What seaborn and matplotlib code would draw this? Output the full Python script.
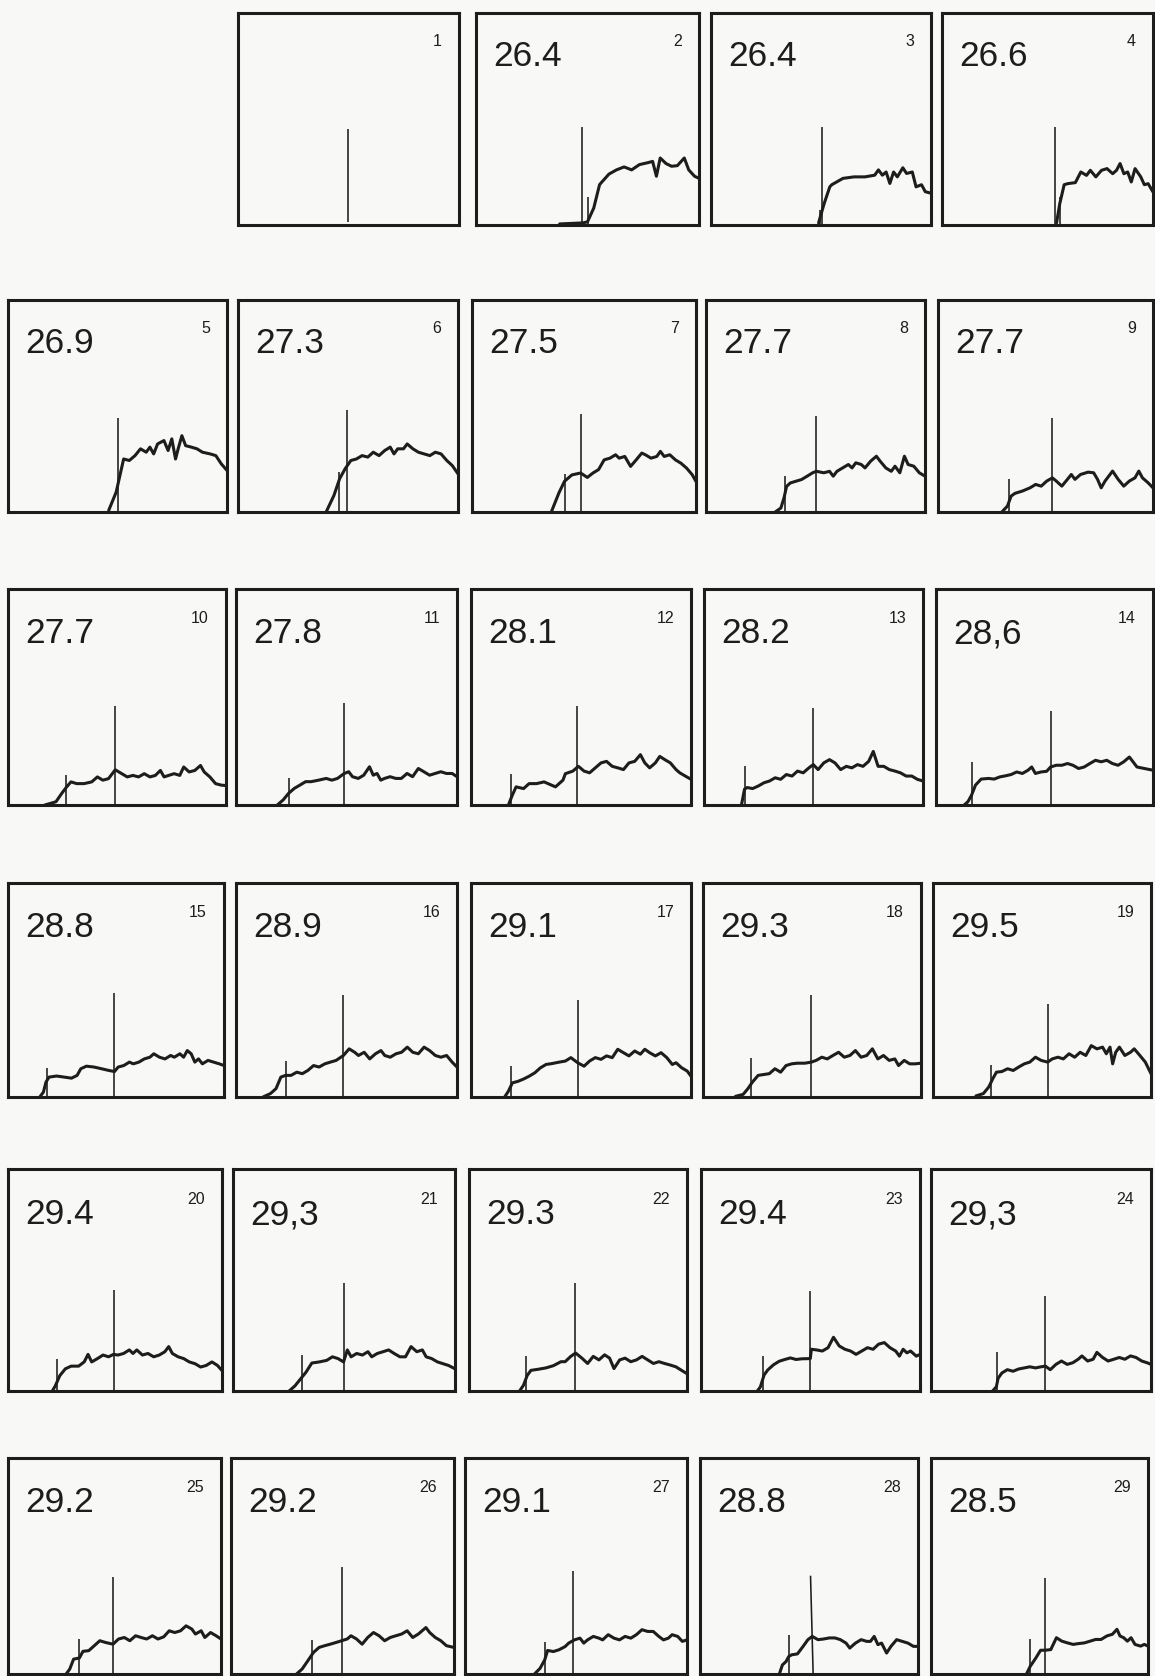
import matplotlib
matplotlib.use("Agg")
import matplotlib.pyplot as plt
import seaborn as sns

sns.set_theme(style="white")
plt.rcParams["font.family"] = ["Liberation Sans", "DejaVu Sans"]

# ---------------- data ----------------
panel_numbers = list(range(1, 30))
temperatures = ["", "26.4", "26.4", "26.6", "26.9", "27.3", "27.5", "27.7", "27.7",
                "27.7", "27.8", "28.1", "28.2", "28,6", "28.8", "28.9", "29.1", "29.3",
                "29.5", "29.4", "29,3", "29.3", "29.4", "29,3", "29.2", "29.2", "29.1",
                "28.8", "28.5"]

# tall reference line: x at top, x at bottom, height (percent of panel)
marker_x_top = [49.7, 47.4, 50.6, 53.5, 50.3, 49.6, 48.5, 50.4, 53.2, 49.2, 49.0, 48.3,
                49.9, 52.8, 49.3, 48.6, 48.5, 49.7, 52.6, 49.3, 49.8, 48.5, 49.9, 52.0,
                49.3, 49.6, 48.8, 50.7, 52.6]
marker_x_bottom = [49.7, 47.4, 50.6, 53.5, 50.3, 49.6, 48.5, 50.4, 53.2, 49.2, 49.0, 48.3,
                   49.9, 52.8, 49.3, 48.6, 48.5, 49.7, 52.6, 49.3, 49.8, 48.5, 49.9, 52.0,
                   49.3, 49.6, 48.8, 51.9, 52.6]
marker_h = [45.5, 46.2, 46.0, 46.4, 44.2, 48.3, 46.0, 45.3, 44.4, 45.8, 47.2, 45.8,
            45.0, 43.3, 48.5, 47.6, 45.3, 47.7, 43.4, 45.7, 48.5, 48.7, 45.2, 43.0,
            44.9, 49.5, 47.7, 45.5, 44.3]
marker_base = [1.6] + [0.0] * 28

# short onset tick (None = no tick)
onset_x = [None, 50.0, 49.4, 55.8, None, 45.8, 41.3, 35.9, 33.2, 26.7, 24.1, 18.4,
           18.5, 16.8, 18.2, 22.7, 18.4, 22.2, 26.8, 22.8, 30.9, 26.3, 28.5, 30.0,
           33.5, 36.1, 35.9, 40.7, 45.7]
onset_h = [None, 13, 7, 13, None, 19, 18, 17, 15.4, 13.7, 12.3, 14.5,
           18.2, 20, 13.5, 17, 14.4, 18.3, 15, 14.3, 16.2, 15.9, 15.7, 17.7,
           16.2, 15.7, 14.6, 18.2, 16]

c02_x = [37.5, 48, 50, 52.8, 55.4, 56.2, 59.6, 63, 66.4, 69.8, 73.3, 76.7, 79.2, 80.9,
         82.6, 85.2, 87.7, 90.3, 93.4, 95.4, 98, 100]
c02_y = [0.5, 1, 1.5, 8, 19, 20, 24, 26, 27.4, 26, 28.5, 29.3, 30, 23, 31.6, 29, 27.7,
         28, 31.6, 26, 23, 22]
c03_x = [48.9, 51.4, 54, 54.9, 60, 65, 70, 74.4, 76.1, 77.9, 79.6, 81.3, 83, 84.7, 87.2,
         88.9, 91.5, 93.2, 95.7, 97.4, 100]
c03_y = [1, 10, 18, 19, 22, 22.7, 22.7, 23.5, 26, 23.5, 25, 19.6, 25, 22.7, 27, 24.3,
         25, 18, 19, 15.7, 15]
c04_x = [54.3, 55.8, 57.9, 59.6, 63.2, 65.8, 68.5, 70.3, 72.9, 75.6, 78.2, 80.9, 82.7,
         84.4, 86.2, 88, 89.7, 91.5, 94.2, 95.9, 97.7, 100]
c04_y = [1, 10, 19, 19.5, 20, 25, 23.4, 25.8, 22.7, 25.8, 26.6, 24.2, 25.8, 29, 24.2,
         25, 20.3, 26.6, 22.7, 19, 19.5, 15.6]
c05_x = [46, 49.4, 52.8, 55.4, 58, 60.5, 63.1, 64.8, 66.5, 68.3, 71.2, 73.1, 74.8, 76.5,
         77.7, 79.4, 81.1, 83.7, 86.3, 88.8, 92.3, 94.9, 97.4, 100]
c05_y = [0.8, 9.4, 25, 24.3, 26.6, 29.8, 28.2, 30.6, 27.4, 32.1, 33.7, 29, 34.5, 25,
         29.8, 36, 31.3, 30.6, 29.8, 28.2, 27.4, 26.6, 22.7, 19.6]
c06_x = [40.2, 43.6, 46.2, 48.7, 51.3, 53.8, 56.4, 59, 61.5, 64.1, 66.7, 69.2, 70.9,
         72.6, 75.2, 76.9, 79.5, 82, 84.6, 87.2, 89.7, 92.3, 94.9, 97.4, 100]
c06_y = [0.3, 7.8, 15.7, 20.4, 24.3, 25, 26.6, 25.9, 28.2, 26.6, 29, 30.6, 27.4, 29.8,
         29.8, 32.1, 29.8, 28.2, 27.4, 26.6, 28.2, 27.4, 24.3, 21.9, 18]
c07_x = [35.4, 38.8, 41.3, 44.6, 48.5, 51.5, 54, 56.5, 59, 61.6, 64.1, 65.7, 68.2, 70.8,
         73.3, 75.8, 77.4, 79.9, 82.5, 84.1, 85.8, 88.3, 90.8, 93.3, 95.8, 98.3, 100]
c07_y = [0, 9, 14.5, 17.5, 18.4, 16.3, 18.4, 20, 24.6, 25.4, 27, 25.4, 26.2, 21.5, 24.6,
         27.8, 27, 25.4, 26.2, 28.6, 26.2, 27, 24.6, 23, 20.7, 17.6, 14.4]
c08_x = [31.6, 34.2, 35.6, 36.8, 38.5, 41, 43.6, 46.2, 48.7, 50.4, 53.8, 56.4, 58.1,
         59.8, 62.4, 65, 66.7, 68.4, 70.9, 72.6, 75.2, 77.8, 79.5, 82.1, 84.6, 86.3,
         88.5, 90.6, 92.3, 94.9, 97.4, 100]
c08_y = [0, 1.9, 6.6, 12.1, 13.7, 14.5, 15.3, 16.9, 18.5, 19.2, 18.5, 19.2, 16.9, 19.2,
         20.8, 22.4, 20.8, 23.2, 22.4, 20.8, 24, 26.3, 24, 20.8, 19.2, 21.6, 18.5, 26.3,
         22.4, 21.6, 18.5, 16.9]
c09_x = [29.7, 32.3, 34, 35.8, 39.3, 42.8, 45.4, 48, 50.6, 53.2, 55, 57.6, 60.2, 62,
         63.7, 66.3, 69.8, 72.4, 74.2, 75.9, 77.7, 81.2, 83.8, 86.4, 89, 91.6, 93.4,
         95.1, 97.7, 100]
c09_y = [0, 2.8, 7.5, 8.8, 9.9, 11.4, 13, 12.2, 14.6, 16.1, 14.6, 12.2, 15.4, 17.7,
         15.4, 17.7, 18.8, 18.5, 15.4, 11.4, 14.6, 19.3, 15.4, 12.2, 14.6, 16.1, 19.3,
         16.1, 13.8, 11.4]
c10_x = [16.9, 22, 24.6, 26.9, 28.9, 31.5, 34.9, 38.4, 41, 43.5, 46.1, 49.2, 52.2, 54.7,
         57.3, 59.9, 62.5, 65.1, 67.6, 69.9, 71.6, 73.7, 76.2, 78.8, 80.6, 83.1, 85.7,
         88.3, 90, 92.6, 95.2, 97.8, 100]
c10_y = [0, 1.5, 5.3, 8.4, 10.7, 9.9, 9.9, 10.7, 13, 11.5, 12.2, 16.3, 14.5, 13, 13.7,
         13, 14.5, 13, 13.7, 16, 13, 13.7, 14.5, 13.7, 17.6, 15.3, 16, 18.3, 15.3, 13,
         9.9, 9.2, 9]
c11_x = [18.7, 21.3, 23.8, 26.4, 28.9, 31.5, 34, 37.4, 40.8, 43.4, 45.9, 49, 51, 52.7,
         55.3, 57.8, 60.4, 62.1, 63.8, 65.5, 67.2, 69.7, 72.3, 74.8, 77.4, 79.9, 82.5,
         85, 87.6, 90.1, 92.7, 95.2, 97.8, 100]
c11_y = [0, 2.3, 5.4, 7.7, 9.2, 10.8, 10.8, 11.5, 12.3, 11.5, 12.3, 14.6, 15.4, 13.1,
         12.3, 13.8, 17.7, 13.8, 14.6, 11.5, 12.3, 13.1, 12.3, 12.3, 14.6, 13.1, 16.9,
         15.4, 13.8, 14.6, 15.4, 14.6, 14.6, 13.1]
c12_x = [17, 18.8, 20.5, 23.9, 26.4, 29.8, 33.2, 38.4, 41.8, 42.9, 46.3, 48.8, 51.4,
         53.9, 56.5, 59.1, 61.6, 64.2, 66.7, 69.3, 71.8, 74.4, 77, 79, 81.2, 83.8, 85.8,
         88.1, 90.6, 93.2, 94.9, 97.4, 100]
c12_y = [0, 4.6, 8.4, 7.6, 9.9, 9.9, 10.7, 8.4, 11.5, 14.5, 15.7, 17.9, 15.7, 14.9,
         17.2, 19.5, 20.2, 17.9, 17.2, 16.4, 19.5, 20.2, 23.3, 19.5, 17.2, 19.5, 22.5, 21,
         19.5, 16.4, 14.9, 13.4, 11.9]
c13_x = [17.1, 18.5, 19.7, 22.2, 24.8, 27.4, 29.9, 32.5, 35, 37.6, 40.2, 42.7, 45.3,
         47.9, 49.9, 52.1, 54.7, 57.3, 59.8, 62.4, 65, 67.5, 70.1, 72.6, 75.2, 77.3,
         79.5, 82.1, 84.6, 87.2, 89.7, 92.3, 94.9, 97.4, 100]
c13_y = [0, 7.3, 8.1, 7.6, 8.8, 10.3, 11.1, 12.6, 11.9, 14.1, 13.4, 15.7, 14.9, 17.2,
         18.7, 16.4, 19.5, 21, 19.5, 16.4, 17.9, 17.2, 18.7, 17.9, 20.2, 24.8, 17.9, 17.9,
         16.4, 15.7, 14.9, 13.4, 13.4, 11.9, 11.1]
c14_x = [13, 14.7, 16.4, 18.2, 20.8, 24.2, 26.8, 29.4, 32, 34.6, 37.2, 39.8, 42.4, 44.1,
         45.8, 48.4, 51, 52.8, 55.4, 58, 60.6, 63.1, 65.7, 68.3, 70.9, 73.5, 76.1, 78.7,
         81.3, 83.9, 86.5, 89.1, 90.8, 92.6, 96, 100]
c14_y = [0, 1.5, 4.6, 9.2, 12, 12.3, 12, 13, 13.5, 14.1, 15.3, 14.6, 16.1, 17.6, 14.6,
         15.3, 15.6, 17.6, 18.4, 18.4, 19.2, 18.4, 16.9, 17.6, 19.2, 20.7, 20, 20.7, 19.2,
         18.4, 20, 22.2, 20, 17.6, 16.9, 16.1]
c15_x = [14.7, 16.4, 17.6, 19, 22.5, 26, 29.4, 32, 33.7, 36.3, 39.8, 43.3, 46.7, 49.3,
         51, 53.6, 56.2, 58, 60.6, 63.1, 65.7, 67.5, 70.1, 72.7, 75.3, 77, 79.6, 81.3, 83,
         84.8, 86.5, 88.2, 90, 92.6, 95.2, 97.8, 100]
c15_y = [0, 2.3, 7, 9.3, 9.8, 9.3, 8.8, 10.1, 13.2, 14.4, 14, 13.2, 12.4, 11.9, 14,
         14.7, 16.3, 15.5, 16.3, 17.8, 18.6, 20.2, 18.6, 17.8, 19.4, 18.6, 20.2, 18.6,
         21.7, 20.2, 16.3, 17.8, 15.5, 17.1, 16.3, 15.5, 14.7]
c16_x = [12.2, 15.6, 18.1, 20.3, 22.4, 24.9, 27.5, 30, 32.5, 35.1, 37.6, 40.2, 42.7,
         45.3, 48.6, 51.2, 53.7, 55.4, 58, 60.5, 63.1, 65.6, 67.3, 69.8, 72.4, 74.9, 77.5,
         80, 82.5, 85.1, 87.6, 90.2, 92.7, 95.3, 97.8, 100]
c16_y = [0, 1.6, 3.9, 9.3, 10.1, 10.1, 11.6, 10.9, 12.4, 14.7, 14, 15.5, 16.3, 17.1,
         19.4, 22.5, 20.9, 19.4, 20.9, 17.8, 20.2, 21.7, 19.4, 18.6, 20.2, 20.9, 23.3,
         20.9, 20.2, 23.3, 21.7, 19.4, 18.6, 19.4, 16.3, 14]
c17_x = [15.3, 17, 18.8, 21.3, 23.9, 26.4, 29, 31.5, 34.1, 36.7, 40.1, 42.9, 45.4, 48.5,
         51.4, 53.9, 56.5, 59.1, 61.6, 64.2, 66.7, 69.3, 71.8, 74.4, 77, 79, 81.2, 83.8,
         86.4, 89, 91.5, 93.2, 95.7, 98.3, 100]
c17_y = [0, 2.7, 6.6, 7.3, 8.4, 9.7, 11.3, 13.6, 15.2, 15.6, 16.3, 16.8, 18.4, 16, 14.4,
         16.8, 18.4, 17.6, 19.2, 18.4, 22.3, 20.7, 19.2, 21.5, 20, 22.3, 20.7, 19.2, 20.7,
         18.4, 15.2, 16, 13.7, 12.1, 9.7]
c18_x = [14.9, 18.4, 20.6, 22.7, 25.3, 27.8, 30.4, 33, 35.6, 38.1, 40.7, 43.3, 46.7,
         49.7, 51.9, 54.5, 57, 59.6, 62.2, 64.8, 67.4, 69.9, 72.5, 75.1, 77.7, 80.2, 82.8,
         85.4, 88, 89.7, 92.3, 94.8, 97.4, 100]
c18_y = [0.3, 1.2, 3.9, 7, 10.1, 10.5, 10.9, 13.2, 11.6, 14.7, 15.5, 15.8, 15.8, 16.3,
         17.1, 18.6, 17.8, 19.4, 20.9, 18.6, 19.4, 21.7, 18.6, 19.4, 22.5, 17.8, 19.4,
         17.1, 17.8, 14.7, 17.1, 15.5, 15.5, 15.8]
c19_x = [19.7, 23.1, 25.6, 27.4, 29.1, 31.6, 34.2, 36.8, 39.3, 41.9, 44.4, 47, 49.6,
         52.6, 54.7, 57.3, 59.8, 62.4, 65, 67.5, 70.1, 72.6, 75.2, 77.8, 79.5, 81.2, 82.4,
         83.8, 85.5, 88, 90.6, 92.3, 94.9, 97.4, 100]
c19_y = [0.5, 1.6, 4.7, 8.5, 11.6, 11.9, 13.2, 12.4, 14, 15.5, 16.3, 18.6, 17.1, 16.3,
         17.8, 18.6, 17.8, 20.2, 18.6, 20.9, 19.4, 24, 22.5, 23.3, 20.2, 23.3, 15.5, 20.9,
         23.3, 19.4, 20.9, 22.5, 19.4, 16.3, 10.9]
c20_x = [20.7, 22.1, 24.2, 26.8, 29.5, 33, 35.6, 37.4, 39.1, 41.8, 44.4, 47, 49.3, 51.4,
         54, 56.7, 58.4, 60.2, 62.8, 65.4, 68.1, 70.7, 73.3, 75.1, 76.8, 79.5, 82.1, 84.7,
         87.4, 90, 92.6, 95.3, 97.9, 100]
c20_y = [0, 2.3, 6.9, 10, 11.2, 11.2, 13.1, 16.5, 13.1, 14.6, 16.2, 15.4, 16.5, 16.2,
         16.9, 18.5, 16.9, 18.5, 16.2, 16.9, 15.4, 16.2, 17.7, 20, 16.9, 15.4, 14.6, 13.1,
         12.3, 10.8, 11.5, 13.1, 11.5, 9.2]
c21_x = [25.3, 27.9, 30.4, 32.9, 35.5, 38.9, 42.2, 44.8, 47.3, 49.8, 51.5, 53.2, 55.7,
         58.3, 60.8, 62.5, 65, 67.6, 70.1, 72.6, 75.2, 77.7, 80.2, 82.8, 85.3, 87, 89.5,
         92.1, 94.6, 97.1, 100]
c21_y = [0, 2.3, 5.4, 8.5, 12.6, 13.1, 13.8, 15.4, 14.6, 13.1, 18.5, 15.4, 16.9, 16.2,
         17.7, 15.4, 16.9, 17.7, 18.5, 16.9, 15.4, 15.4, 20, 17.7, 18.5, 15.4, 14.6, 13.1,
         12.3, 11.5, 10]
c22_x = [23.2, 25, 26.7, 28.4, 31.8, 35.3, 38.7, 42.2, 44.1, 46.7, 48.9, 51.8, 54.4, 57,
         59.6, 62.2, 64.5, 66.5, 69.1, 71.6, 74.2, 76.8, 79.4, 82, 84.6, 87.1, 89.7, 92.3,
         94.9, 97.5, 100]
c22_y = [0, 2.6, 7, 9.3, 9.8, 10.4, 11.4, 13.2, 13.2, 15.6, 17.1, 14.8, 12.4, 15.6, 14,
         16.3, 14.8, 10.1, 14, 14.8, 13.2, 14, 15.6, 14, 12.4, 13.2, 12.4, 11.7, 10.9,
         9.3, 7.8]
c23_x = [25.7, 27.1, 28.8, 30.5, 33.1, 35.7, 38.3, 40.8, 43.4, 46, 49.9, 50.4, 52.8,
         55.4, 58, 60.5, 63.1, 65.7, 68.3, 70.8, 73.4, 76, 78.6, 81.1, 83.7, 86.3, 88.9,
         90.6, 92.3, 94, 95.7, 98.3, 100]
c23_y = [0, 1.8, 7.2, 9.5, 11.8, 13.4, 14.2, 14.9, 14.2, 14.5, 14.6, 18.8, 18.5, 18,
         19.5, 24.2, 20.3, 18.8, 18, 16.5, 18, 19.5, 18.8, 21.1, 21.8, 19.5, 18, 15.7,
         18.8, 17.2, 18, 15.7, 16.5]
c24_x = [28, 29.7, 30.5, 32.2, 34.7, 37.3, 39.8, 42.4, 44.9, 47.5, 50, 52, 54.2, 56.8,
         59.3, 61.9, 64.4, 66.9, 68.6, 71.2, 73.7, 75.4, 78, 80.5, 83.1, 85.6, 88.1, 90.7,
         93.2, 95.8, 98.3, 100]
c24_y = [0, 1.9, 5.7, 8.1, 9.6, 8.9, 9.9, 10.4, 10.9, 10.4, 10.9, 11.2, 9.6, 12, 13.5,
         12, 12.7, 14.3, 15.8, 13.5, 14.3, 17.4, 15.1, 13.5, 14.3, 15.1, 14.3, 15.8, 15.1,
         13.5, 12.7, 12]
c25_x = [27.3, 29, 30.8, 33.5, 35.2, 37.9, 40.5, 43.1, 45.8, 49.3, 51.9, 54.6, 57.2,
         59.9, 62.5, 65.1, 67.8, 70.4, 73.1, 75.7, 78.3, 81, 83.6, 86.3, 88, 90.7, 92.4,
         95.1, 97.7, 100]
c25_y = [0, 2.3, 6.9, 7.4, 10.5, 10.8, 13.1, 15.4, 14.6, 13.8, 16.2, 16.9, 15.4, 17.7,
         16.9, 16.2, 17.7, 16.2, 17.2, 20, 19.2, 20, 22.3, 20.8, 18.5, 20, 16.9, 19.2,
         17.7, 16.2]
c26_x = [29.4, 31.9, 34.5, 37, 39.5, 42, 44.5, 47.1, 49.6, 52.1, 53.8, 56.3, 58.8, 61.3,
         63.9, 66.4, 68.9, 71.4, 73.9, 76.5, 79, 81.5, 84, 85.7, 87.4, 89.1, 91.6, 94.1,
         96.6, 100]
c26_y = [0, 2.3, 6.2, 10, 12.3, 13.1, 13.8, 14.6, 15.4, 16.2, 17.7, 16.2, 13.8, 16.9,
         19.2, 17.7, 15.4, 16.9, 17.7, 18.5, 20, 16.9, 18.5, 20, 21.5, 19.2, 16.9, 15.4,
         13.1, 12.3]
c27_x = [31.3, 33.8, 35.9, 37.2, 39.8, 42.3, 45.1, 46.7, 49.3, 51.8, 53.5, 55.2, 57.8,
         60.3, 62, 64.5, 67.1, 69.6, 72.1, 74.7, 77.2, 79.7, 82.3, 84.8, 87.3, 89.4, 91.6,
         93.3, 95.8, 97.9, 100]
c27_y = [0, 2.6, 6.5, 10.9, 10.4, 11.2, 12.7, 14.3, 15.8, 16.6, 14.3, 15.8, 17.4, 16.6,
         15.8, 18.2, 16.6, 15.8, 17.4, 16.6, 18.2, 20.5, 19.7, 19.7, 17.4, 15.8, 16.6,
         18.2, 17.4, 15.1, 15.8]
c28_x = [36.4, 37.8, 39.5, 40.7, 42.1, 44.7, 47.3, 49.5, 51.5, 54.1, 56.7, 59.3, 61.9,
         64.4, 67, 68.7, 71.3, 73.9, 76.5, 78.2, 79.9, 81.6, 83.3, 85.6, 87.6, 90.2, 92.8,
         95.4, 97.9, 100]
c28_y = [0, 4.2, 5.8, 8.1, 8.9, 9.3, 12.8, 15.9, 17.4, 15.9, 16.2, 16.7, 16.7, 15.9,
         14.3, 12, 14.3, 15.9, 15.1, 15.1, 17.4, 13.6, 14.3, 9.7, 12.8, 15.9, 15.1, 14.3,
         12.8, 12.8]
c29_x = [44, 45.7, 48.3, 50.5, 52.6, 55.2, 57.8, 60.3, 62.9, 65.5, 68.1, 70.7, 73.3,
         75.9, 78.4, 81, 83.6, 85.7, 87.1, 88.8, 90.5, 92.2, 94, 96.6, 98.3, 100]
c29_y = [0, 3.5, 7.4, 11, 11, 11.3, 16.8, 15.2, 14.4, 13.7, 14.1, 14.4, 15.2, 16, 16,
         17.6, 18.4, 20.7, 17.6, 16.8, 15.2, 16.8, 13.7, 12.9, 13.7, 12.9]

curves = {
    2: (c02_x, c02_y), 3: (c03_x, c03_y), 4: (c04_x, c04_y), 5: (c05_x, c05_y),
    6: (c06_x, c06_y), 7: (c07_x, c07_y), 8: (c08_x, c08_y), 9: (c09_x, c09_y),
    10: (c10_x, c10_y), 11: (c11_x, c11_y), 12: (c12_x, c12_y), 13: (c13_x, c13_y),
    14: (c14_x, c14_y), 15: (c15_x, c15_y), 16: (c16_x, c16_y), 17: (c17_x, c17_y),
    18: (c18_x, c18_y), 19: (c19_x, c19_y), 20: (c20_x, c20_y), 21: (c21_x, c21_y),
    22: (c22_x, c22_y), 23: (c23_x, c23_y), 24: (c24_x, c24_y), 25: (c25_x, c25_y),
    26: (c26_x, c26_y), 27: (c27_x, c27_y), 28: (c28_x, c28_y), 29: (c29_x, c29_y),
}

# ---------------- layout (pixel frames: left, right, top, bottom) ----------------
W, H = 1155, 1676
rows_tb = [(13, 225), (300, 512), (589, 805), (883, 1097), (1169, 1391), (1458, 1674)]
cols_lr = [
    [(238, 459), (476, 699), (711, 931), (942, 1153)],
    [(8, 227), (238, 458), (472, 696), (706, 925), (938, 1153)],
    [(8, 226), (236, 457), (471, 691), (704, 923), (936, 1153)],
    [(8, 224), (236, 457), (471, 691), (703, 921), (933, 1151)],
    [(8, 222), (233, 455), (469, 687), (701, 920), (931, 1151)],
    [(8, 221), (231, 454), (465, 687), (700, 918), (931, 1148)],
]
frames = []
for (t, b), cols in zip(rows_tb, cols_lr):
    for (l, r) in cols:
        frames.append((l, r, t, b))

INK = "#1d1d1d"
BG = "#f8f8f6"

fig = plt.figure(figsize=(W / 100, H / 100), dpi=100, facecolor=BG)

for i, (l, r, t, b) in enumerate(frames):
    num = panel_numbers[i]
    ax = fig.add_axes([l / W, 1 - b / H, (r - l) / W, (b - t) / H])
    ax.set_facecolor(BG)
    ax.set_xlim(0, 100)
    ax.set_ylim(0, 100)
    ax.set_xticks([])
    ax.set_yticks([])
    for s in ax.spines.values():
        s.set_linewidth(2.2)
        s.set_color(INK)

    ax.plot([marker_x_bottom[i], marker_x_top[i]], [marker_base[i], marker_h[i]],
            color=INK, lw=1.15, solid_capstyle="butt")
    if onset_x[i] is not None:
        ax.vlines(onset_x[i], 0, onset_h[i], color=INK, lw=1.15)
    if num in curves:
        cx, cy = curves[num]
        sns.lineplot(x=cx, y=cy, ax=ax, color=INK, linewidth=2.2,
                     estimator=None, sort=False,
                     solid_joinstyle="round", solid_capstyle="round")
    ax.set_xlabel("")
    ax.set_ylabel("")

    ph = b - t
    big_y = t + 0.207 * ph
    if temperatures[i]:
        fig.text((l + 17) / W, 1 - big_y / H, temperatures[i], fontsize=25.5,
                 color=INK, ha="left", va="center")
    fig.text((r - 17) / W, 1 - (big_y - 15) / H, str(num), fontsize=11.5,
             color=INK, ha="right", va="center")

fig.savefig("out.png", dpi=100, facecolor=BG)
